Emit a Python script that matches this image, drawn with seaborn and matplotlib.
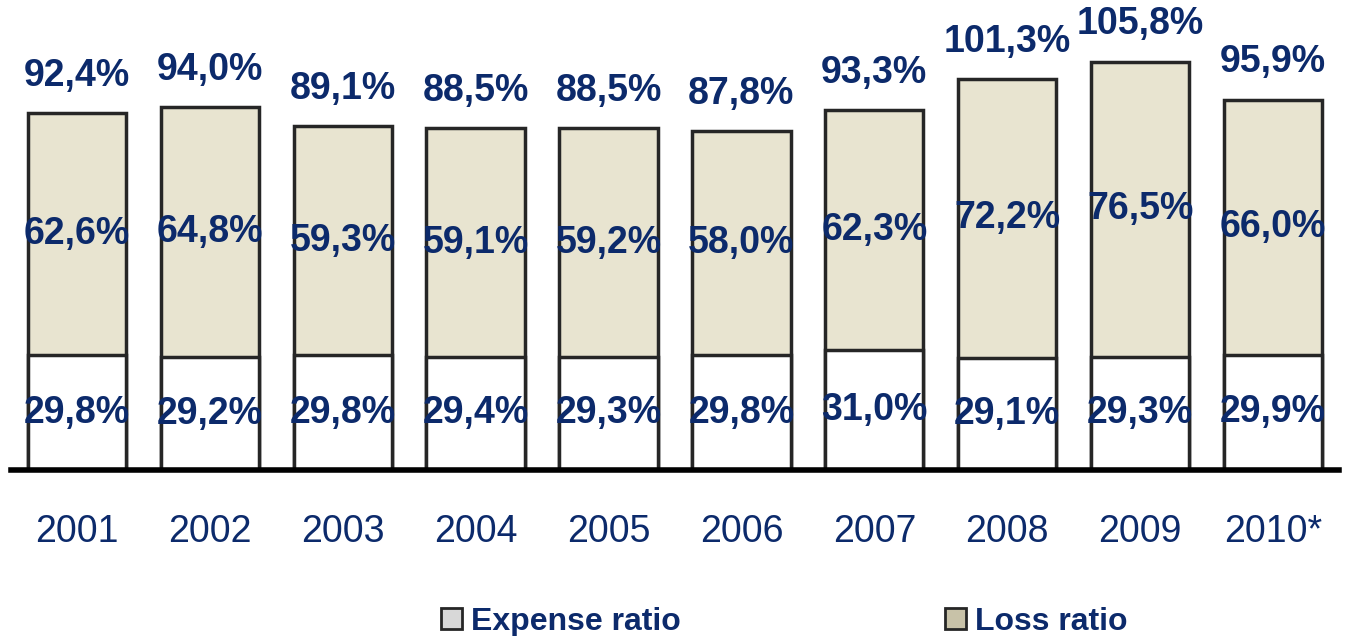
import numpy as np
import pandas as pd
import seaborn as sns
import matplotlib
matplotlib.use("Agg")
import matplotlib.pyplot as plt

# data
years = ['2001', '2002', '2003', '2004', '2005', '2006', '2007', '2008', '2009', '2010*']
expense_ratio = [29.8, 29.2, 29.8, 29.4, 29.3, 29.8, 31.0, 29.1, 29.3, 29.9]
loss_ratio = [62.6, 64.8, 59.3, 59.1, 59.2, 58.0, 62.3, 72.2, 76.5, 66.0]

sns.set_theme(style="white")
plt.rcParams['font.family'] = ['Liberation Sans', 'DejaVu Sans']

navy = '#0c2a6b'
beige = '#e8e4d0'
edge = '#262626'

df = pd.DataFrame({'year': years, 'expense': expense_ratio, 'loss': loss_ratio})
df['total'] = df['expense'] + df['loss']

def fmt(v):
    return f"{v:.1f}".replace('.', ',') + '%'

fig, ax = plt.subplots(figsize=(13.64, 6.36), dpi=100)
fig.subplots_adjust(left=0.0077, right=0.982, bottom=0.261, top=1.0)

# total (loss on top) first, expense drawn over the bottom part
sns.barplot(data=df, x='year', y='total', color=beige, width=0.74,
            edgecolor=edge, linewidth=2.5, saturation=1, ax=ax)
sns.barplot(data=df, x='year', y='expense', color='white', width=0.74,
            edgecolor=edge, linewidth=2.5, saturation=1, ax=ax)

tot_bars = ax.containers[0]
exp_bars = ax.containers[1]

# totals above bars
ax.bar_label(tot_bars, labels=[fmt(v) for v in df['total']], padding=14,
             fontsize=27, fontweight='bold', color=navy)

# loss labels centred in the upper segment
for bar, exp, loss in zip(tot_bars, df['expense'], df['loss']):
    ax.text(bar.get_x() + bar.get_width() / 2, exp + loss / 2, fmt(loss),
            ha='center', va='center', fontsize=27, fontweight='bold', color=navy)

ax.bar_label(exp_bars, labels=[fmt(v) for v in df['expense']], label_type='center',
             fontsize=27, fontweight='bold', color=navy)

ax.set_ylim(0, 121.8)
ax.set_xlim(-0.5, len(years) - 0.5)
ax.set_xlabel('')
ax.set_ylabel('')
ax.set_yticks([])
ax.tick_params(axis='x', length=0, pad=32, labelsize=27, labelcolor=navy)

for s in ['top', 'right', 'left']:
    ax.spines[s].set_visible(False)
ax.spines['bottom'].set_color('black')
ax.spines['bottom'].set_linewidth(4)

# legend
h_exp = plt.Rectangle((0, 0), 1, 1, facecolor='#d8d8d8', edgecolor=edge, linewidth=2)
h_loss = plt.Rectangle((0, 0), 1, 1, facecolor='#c8c2a8', edgecolor=edge, linewidth=2)
leg = fig.legend([h_exp, h_loss], ['Expense ratio', 'Loss ratio'],
                 loc='center', bbox_to_anchor=(0.575, 0.022), ncol=2, frameon=False,
                 handlelength=0.65, handleheight=0.65, handletextpad=0.28,
                 columnspacing=8.3, prop={'size': 23, 'weight': 'bold'})
for t in leg.get_texts():
    t.set_color(navy)

plt.savefig('out.png', dpi=100)
